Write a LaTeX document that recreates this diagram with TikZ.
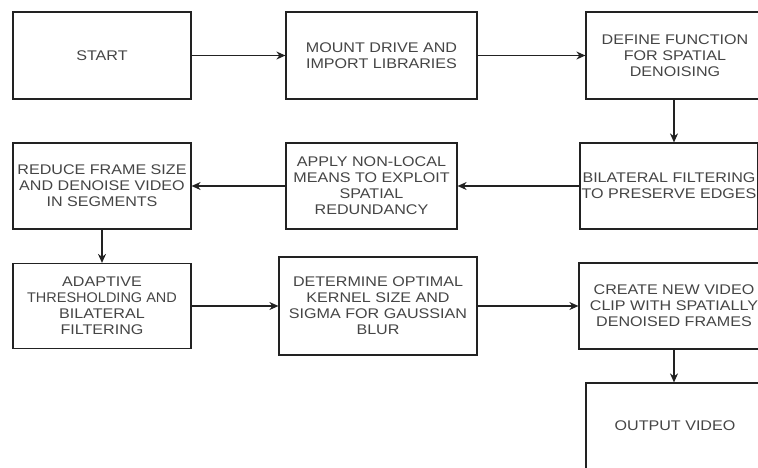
\documentclass[tikz,border=0pt]{standalone}
\usepackage{fontspec}
\usepackage{graphicx}
\setmainfont{Liberation Sans}[FakeStretch=1.15]
\usetikzlibrary{arrows.meta}
\definecolor{txtgray}{HTML}{454545}
\definecolor{linegray}{HTML}{222222}
\tikzset{
  procbox/.style={draw=linegray, line width=1.2pt, rectangle, inner sep=0pt, align=center,
    text=txtgray, font=\fontsize{14}{16}\selectfont},
  flow/.style={draw=linegray, line width=1.2pt, -{Stealth[length=9pt,width=8pt]}}
}
\begin{document}
\begin{tikzpicture}[x=1pt,y=-1pt]
\useasboundingbox (0,0) rectangle (758,467);
\clip (0,0) rectangle (758,467);
\fill[white] (0,0) rectangle (758,467);
\node[procbox, minimum width=178pt, minimum height=87pt] (start) at (102,55.5) {START};
\node[procbox, minimum width=191pt, minimum height=87pt] (mount) at (381.5,55.5) {MOUNT DRIVE AND\\IMPORT LIBRARIES};
\node[procbox, minimum width=178pt, minimum height=87pt] (define) at (675,55.5) {DEFINE FUNCTION\\FOR SPATIAL\\DENOISING};
\node[procbox, minimum width=178pt, minimum height=86pt] (bilat) at (669,186) {BILATERAL FILTERING\\TO PRESERVE EDGES};
\node[procbox, minimum width=171pt, minimum height=86pt] (apply) at (371.5,186) {APPLY NON-LOCAL\\MEANS TO EXPLOIT\\SPATIAL\\REDUNDANCY};
\node[procbox, minimum width=178pt, minimum height=86pt] (reduce) at (102,186) {REDUCE FRAME SIZE\\AND DENOISE VIDEO\\IN SEGMENTS};
\node[procbox, minimum width=178pt, minimum height=85pt] (adapt) at (102,306) {ADAPTIVE\\\scalebox{0.9}[1]{THRESHOLDING AND}\\BILATERAL\\FILTERING};
\node[procbox, minimum width=198pt, minimum height=98pt] (determ) at (378,306) {DETERMINE OPTIMAL\\KERNEL SIZE AND\\SIGMA FOR GAUSSIAN\\BLUR};
\node[procbox, minimum width=190pt, minimum height=86pt] (create) at (674,306) {CREATE NEW VIDEO\\CLIP WITH SPATIALLY\\DENOISED FRAMES};
\node[procbox, minimum width=178pt, minimum height=86pt] (output) at (675,426) {OUTPUT VIDEO};
\draw[flow] (start.east) -- (start.east -| mount.west);
\draw[flow] (mount.east) -- (mount.east -| define.west);
\draw[flow] ([xshift=-1pt]define.south) -- ([xshift=-1pt]define.south |- bilat.north);
\draw[flow] (bilat.west) -- (bilat.west -| apply.east);
\draw[flow] (apply.west) -- (apply.west -| reduce.east);
\draw[flow] (reduce.south) -- (reduce.south |- adapt.north);
\draw[flow] (adapt.east) -- (adapt.east -| determ.west);
\draw[flow] (determ.east) -- (determ.east -| create.west);
\draw[flow] (create.south) -- (create.south |- output.north);
\end{tikzpicture}
\end{document}
